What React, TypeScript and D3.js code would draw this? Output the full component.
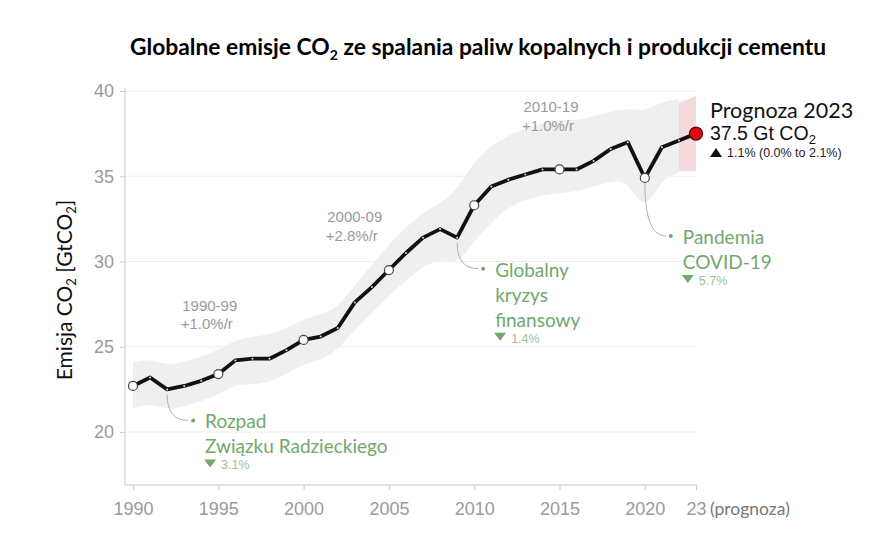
import { useEffect, useRef } from "react";
import * as d3 from "d3";

const years = [
  1990, 1991, 1992, 1993, 1994, 1995, 1996, 1997, 1998, 1999,
  2000, 2001, 2002, 2003, 2004, 2005, 2006, 2007, 2008, 2009,
  2010, 2011, 2012, 2013, 2014, 2015, 2016, 2017, 2018, 2019,
  2020, 2021, 2022, 2023,
];
const emissions = [
  22.7, 23.2, 22.5, 22.7, 23.0, 23.4, 24.2, 24.3, 24.3, 24.8,
  25.4, 25.6, 26.1, 27.6, 28.5, 29.5, 30.5, 31.4, 31.9, 31.4,
  33.3, 34.4, 34.8, 35.1, 35.4, 35.4, 35.4, 35.9, 36.6, 37.0,
  34.9, 36.7, 37.1, 37.5,
];
// uncertainty band 1990-2022
const bandUpper = [
  24.1, 24.3, 23.9, 24.1, 24.4, 24.8, 25.4, 25.6, 25.7, 26.1,
  26.6, 26.9, 27.3, 28.6, 29.8, 31.0, 32.0, 32.9, 33.4, 34.2,
  35.9, 36.8, 37.4, 37.8, 38.1, 38.3, 38.3, 38.5, 38.8, 39.0,
  38.8, 39.4, 39.5,
];
const bandLower = [
  21.4, 21.7, 21.3, 21.5, 21.8, 22.2, 22.8, 22.8, 22.9, 23.4,
  24.0, 24.2, 24.8, 26.0, 27.0, 28.0, 28.9, 29.7, 30.2, 29.8,
  31.2, 32.3, 33.2, 33.6, 33.9, 34.0, 34.1, 34.4, 34.7, 34.8,
  32.8, 34.9, 35.2,
];
const forecastYears = [2022, 2023];
const forecastUpper = [39.3, 39.7];
const forecastLower = [35.3, 35.3];

const markerYears = [1990, 1995, 2000, 2005, 2010, 2015, 2020];
const xTicks = [1990, 1995, 2000, 2005, 2010, 2015, 2020, 2023];
const xTickLabels = ["1990", "1995", "2000", "2005", "2010", "2015", "2020", "23"];
const yTicks = [20, 25, 30, 35, 40];

const periodLabels = ["1990-99", "2000-09", "2010-19"];
const periodRates = ["+1.0%/r", "+2.8%/r", "+1.0%/r"];
const periodAnchors: [number, number][] = [[1994.5, 27.1], [2003, 32.3], [2014.5, 38.75]];

const eventYears = [1992, 2009, 2020];
const eventLines = [["Rozpad", "Związku Radzieckiego"], ["Globalny", "kryzys", "finansowy"], ["Pandemia", "COVID-19"]];
const eventDrops = ["3.1%", "1.4%", "5.7%"];
const eventDotDy = [31, 31, 58];

const GREEN = "#72a86c";
const SANS = "Lato, 'Open Sans', sans-serif";
const HELV = "'Liberation Sans', Arial, sans-serif";

const App = () => {
  const svgRef = useRef<SVGSVGElement>(null);

  useEffect(() => {
    if (!svgRef.current) return;
    const svg = d3.select(svgRef.current);
    svg.selectAll("*").remove();

    const x = d3.scaleLinear().domain([1990, 2023]).range([133, 696]);
    const y = d3.scaleLinear().domain([20, 40]).range([432, 91]);
    const left = 125, right = x(2023) + 1, bottom = 485;

    // title
    svg.append("text")
      .attr("x", 478).attr("y", 55)
      .attr("text-anchor", "middle")
      .attr("font-family", SANS).attr("font-weight", 700).attr("font-size", 22.8)
      .call(t => {
        t.append("tspan").text("Globalne emisje CO");
        t.append("tspan").attr("font-size", 14).attr("dy", 5).text("2");
        t.append("tspan").attr("dy", -5).text(" ze spalania paliw kopalnych i produkcji cementu");
      });

    // grid
    svg.append("g").selectAll("line").data(yTicks).join("line")
      .attr("x1", left).attr("x2", right)
      .attr("y1", d => y(d)).attr("y2", d => y(d))
      .attr("stroke", "#ededed");

    // uncertainty band
    const bandData = years.slice(0, bandUpper.length).map((yr, i) => ({ yr, lo: bandLower[i], hi: bandUpper[i] }));
    svg.append("path")
      .datum(bandData)
      .attr("d", d3.area<{ yr: number; lo: number; hi: number }>()
        .x(d => x(d.yr)).y0(d => y(d.lo)).y1(d => y(d.hi))
        .curve(d3.curveBasis))
      .attr("fill", "#efefef");

    const fcData = forecastYears.map((yr, i) => ({ yr, lo: forecastLower[i], hi: forecastUpper[i] }));
    svg.append("path")
      .datum(fcData)
      .attr("d", d3.area<{ yr: number; lo: number; hi: number }>()
        .x(d => x(d.yr)).y0(d => y(d.lo)).y1(d => y(d.hi)))
      .attr("fill", "#f5dadc");

    // axes
    const axisColor = "#c8c8c8";
    svg.append("line").attr("x1", left).attr("x2", left).attr("y1", y(40.2)).attr("y2", bottom)
      .attr("stroke", axisColor);
    svg.append("line").attr("x1", left).attr("x2", right).attr("y1", bottom).attr("y2", bottom)
      .attr("stroke", axisColor);

    const yAxis = svg.append("g").attr("transform", `translate(${left},0)`)
      .call(d3.axisLeft(y).tickValues(yTicks).tickSize(5).tickPadding(6));
    yAxis.select(".domain").remove();
    yAxis.selectAll("line").attr("stroke", axisColor);
    yAxis.selectAll("text").attr("font-family", HELV).attr("font-size", 18).attr("fill", "#9a9a9a");

    const xAxis = svg.append("g").attr("transform", `translate(0,${bottom})`)
      .call(d3.axisBottom(x).tickValues(xTicks).tickFormat((_, i) => xTickLabels[i]).tickSize(5).tickPadding(12));
    xAxis.select(".domain").remove();
    xAxis.selectAll("line").attr("stroke", axisColor);
    xAxis.selectAll("text").attr("font-family", HELV).attr("font-size", 18).attr("fill", "#9a9a9a");

    svg.append("text")
      .attr("x", x(2023) + 14).attr("y", bottom + 30)
      .attr("font-family", SANS).attr("font-size", 17.5).attr("fill", "#777")
      .text("(prognoza)");

    // y label
    svg.append("text")
      .attr("transform", `translate(72,290) rotate(-90)`)
      .attr("text-anchor", "middle")
      .attr("font-family", SANS).attr("font-size", 21).attr("fill", "#111")
      .call(t => {
        t.append("tspan").text("Emisja CO");
        t.append("tspan").attr("font-size", 13).attr("dy", 4).text("2");
        t.append("tspan").attr("dy", -4).text(" [GtCO");
        t.append("tspan").attr("font-size", 13).attr("dy", 4).text("2");
        t.append("tspan").attr("dy", -4).text("]");
      });

    // period growth labels
    periodLabels.forEach((lab, i) => {
      const [px, py] = periodAnchors[i];
      const g = svg.append("text")
        .attr("text-anchor", "middle")
        .attr("font-family", HELV).attr("font-size", 15).attr("fill", "#9a9a9a");
      g.append("tspan").attr("x", x(px)).attr("y", y(py)).text(lab);
      g.append("tspan").attr("x", x(px) - 3).attr("dy", 18.5).text(periodRates[i]);
    });

    // event annotations
    eventYears.forEach((yr, i) => {
      const idx = years.indexOf(yr);
      const px = x(yr), py = y(emissions[idx]);
      const dotX = px + 26, dotY = py + eventDotDy[i];
      svg.append("path")
        .attr("d", `M${px},${py + 5} Q${px},${dotY} ${dotX - 5},${dotY}`)
        .attr("fill", "none").attr("stroke", "#b0b0b0").attr("stroke-width", 1);
      svg.append("circle").attr("cx", dotX).attr("cy", dotY).attr("r", 2).attr("fill", GREEN);
      const lines = eventLines[i];
      lines.forEach((ln, j) => {
        svg.append("text")
          .attr("x", px + 38).attr("y", dotY + 8 + j * 25)
          .attr("font-family", SANS).attr("font-size", 19).attr("fill", GREEN)
          .text(ln);
      });
      const last = dotY + 8 + (lines.length - 1) * 25;
      const tx = px + 43, ty = last + 10;
      svg.append("path")
        .attr("d", `M${tx - 6},${ty - 4} L${tx + 6},${ty - 4} L${tx},${ty + 4} Z`)
        .attr("fill", GREEN);
      svg.append("text")
        .attr("x", px + 54).attr("y", last + 16)
        .attr("font-family", HELV).attr("font-size", 12.5).attr("fill", "#9fbd99")
        .text(eventDrops[i]);
    });

    // main line
    const pts = years.map((yr, i) => ({ yr, v: emissions[i] }));
    svg.append("path")
      .datum(pts)
      .attr("d", d3.line<{ yr: number; v: number }>().x(d => x(d.yr)).y(d => y(d.v)))
      .attr("fill", "none").attr("stroke", "#111").attr("stroke-width", 3.8)
      .attr("stroke-linejoin", "round");

    svg.append("g").selectAll("circle")
      .data(pts.filter(d => !markerYears.includes(d.yr) && d.yr !== 2023))
      .join("circle")
      .attr("cx", d => x(d.yr)).attr("cy", d => y(d.v)).attr("r", 1)
      .attr("fill", "#ddd");

    svg.append("g").selectAll("circle")
      .data(pts.filter(d => markerYears.includes(d.yr)))
      .join("circle")
      .attr("cx", d => x(d.yr)).attr("cy", d => y(d.v)).attr("r", 4.5)
      .attr("fill", "#fff").attr("stroke", "#444").attr("stroke-width", 1.2);

    const last = pts[pts.length - 1];
    svg.append("circle")
      .attr("cx", x(last.yr)).attr("cy", y(last.v)).attr("r", 6.5)
      .attr("fill", "#e30613").attr("stroke", "#5a0a0a").attr("stroke-width", 1.3);

    // forecast label
    const fx = x(2023) + 14;
    svg.append("text").attr("x", fx).attr("y", 118)
      .attr("font-family", SANS).attr("font-size", 21.5).attr("fill", "#111")
      .text("Prognoza 2023");
    svg.append("text").attr("x", fx).attr("y", 140)
      .attr("font-family", HELV).attr("font-size", 19.5).attr("fill", "#111")
      .call(t => {
        t.append("tspan").text(`${last.v} Gt CO`);
        t.append("tspan").attr("font-size", 13).attr("dy", 4).text("2");
      });
    svg.append("path")
      .attr("d", `M${fx},${157} L${fx + 12},${157} L${fx + 6},${148} Z`)
      .attr("fill", "#111");
    svg.append("text").attr("x", fx + 17).attr("y", 157)
      .attr("font-family", HELV).attr("font-size", 12.5).attr("fill", "#222")
      .text("1.1% (0.0% to 2.1%)");
  }, []);

  return (
    <svg ref={svgRef} width={880} height={540}
      style={{ position: "absolute", left: 0, top: 0, background: "#fff" }} />
  );
};

export default App;
